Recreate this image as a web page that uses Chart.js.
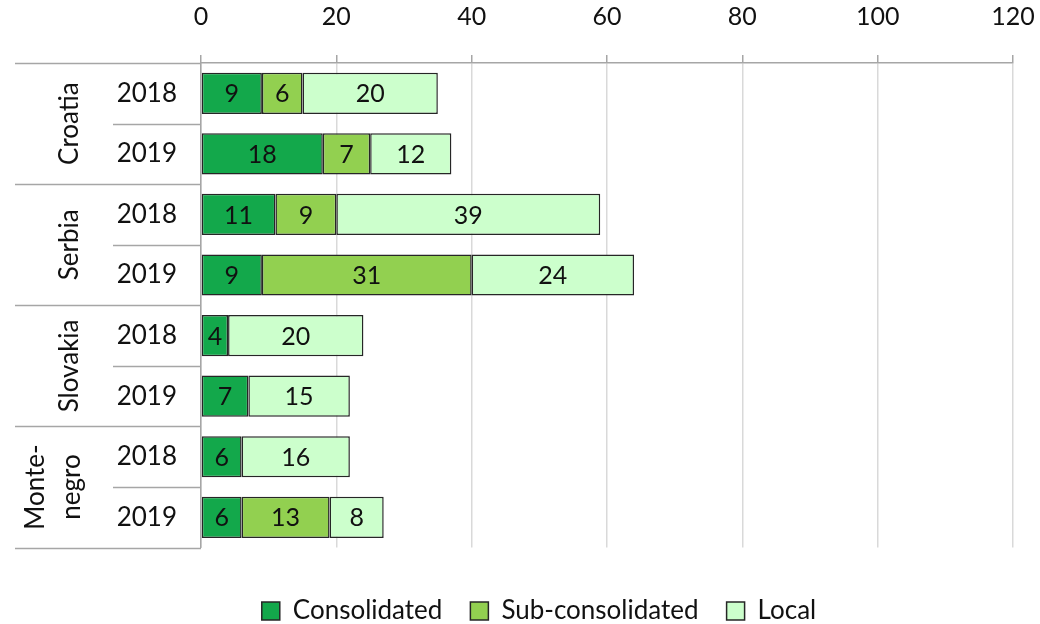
<!DOCTYPE html>
<html>
<head>
<meta charset="utf-8">
<script src="https://cdn.jsdelivr.net/npm/chart.js@4.4.1/dist/chart.umd.min.js"></script>
<style>
  body { margin: 0; background: #fff; }
  #wrap { width: 1040px; height: 624px; position: relative; }
</style>
</head>
<body>
<div id="wrap"><canvas id="chart"></canvas></div>
<script>
// Daten
const countries = [['Croatia'], ['Serbia'], ['Slovakia'], ['Monte-', 'negro']];
const years = ['2018', '2019', '2018', '2019', '2018', '2019', '2018', '2019'];
const consolidated = [9, 18, 11, 9, 4, 7, 6, 6];
const subConsolidated = [6, 7, 9, 31, 0, 0, 0, 13];
const local = [20, 12, 39, 24, 20, 15, 16, 8];
const xTicks = [0, 20, 40, 60, 80, 100, 120];

const FONT = 'Lato, "Open Sans", sans-serif';
const GRAY = '#a6a6a6';
const TEXT = '#111';

// Tal i søjlerne
const valueLabels = {
    id: 'valueLabels',
    afterDatasetsDraw(chart) {
        const ctx = chart.ctx;
        ctx.save();
        ctx.font = '25px ' + FONT;
        ctx.fillStyle = TEXT;
        ctx.textAlign = 'center';
        ctx.textBaseline = 'middle';
        chart.data.datasets.forEach((ds, i) => {
            chart.getDatasetMeta(i).data.forEach((bar, j) => {
                const v = ds.data[j];
                if (!v) return;
                const cx = (bar.x + bar.base) / 2;
                ctx.fillText(String(v), cx, bar.y + 1);
            });
        });
        ctx.restore();
    }
};

// Lande + skillelinjer til venstre
const groupLabels = {
    id: 'groupLabels',
    afterDraw(chart) {
        const ctx = chart.ctx;
        const area = chart.chartArea;
        const n = years.length;
        const h = (area.bottom - area.top) / n;
        ctx.save();
        ctx.strokeStyle = GRAY;
        ctx.lineWidth = 1.5;
        for (let k = 0; k <= n; k++) {
            const y = Math.round(area.top + k * h) + 0.5;
            const x0 = k % 2 === 0 ? 15 : 113;
            ctx.beginPath();
            ctx.moveTo(x0, y);
            ctx.lineTo(area.left, y);
            ctx.stroke();
        }
        ctx.font = '26px ' + FONT;
        ctx.fillStyle = TEXT;
        ctx.textAlign = 'center';
        ctx.textBaseline = 'middle';
        countries.forEach((lines, g) => {
            const cy = area.top + (g * 2 + 1) * h;
            // einzeilig bei x=70, zweizeilig 36 / 72
            const xs = lines.length === 1 ? [70] : [36, 72];
            lines.forEach((txt, li) => {
                ctx.save();
                ctx.translate(xs[li], cy);
                ctx.rotate(-Math.PI / 2);
                ctx.fillText(txt, 0, 0);
                ctx.restore();
            });
        });
        ctx.restore();
    }
};

const ctx = document.getElementById('chart').getContext('2d');

new Chart(ctx, {
    type: 'bar',
    data: {
        labels: years,
        datasets: [
            { label: 'Consolidated', data: consolidated, backgroundColor: '#13a84b' },
            { label: 'Sub-consolidated', data: subConsolidated, backgroundColor: '#92d050' },
            { label: 'Local', data: local, backgroundColor: '#ccffcc' }
        ].map(d => Object.assign(d, {
            borderColor: '#262626',
            borderWidth: 1.5,
            borderSkipped: false,
            categoryPercentage: 1,
            barPercentage: 0.68
        }))
    },
    options: {
        indexAxis: 'y',
        responsive: true,
        maintainAspectRatio: false,
        animation: false,
        layout: { padding: { left: 38, right: 0, top: 0, bottom: -10 } },
        plugins: {
            legend: {
                position: 'bottom',
                title: {
                    display: true,
                    text: ' ',
                    font: { size: 2 },
                    padding: { top: 0, bottom: 20 }
                },
                labels: {
                    font: { size: 26, family: FONT },
                    color: TEXT,
                    boxWidth: 18,
                    boxHeight: 18,
                    padding: 28,
                    generateLabels(chart) {
                        return chart.data.datasets.map((d, i) => ({
                            text: d.label,
                            fillStyle: d.backgroundColor,
                            strokeStyle: '#262626',
                            fontColor: TEXT,
                            lineWidth: 1.5,
                            datasetIndex: i
                        }));
                    }
                }
            },
            tooltip: { enabled: false }
        },
        scales: {
            x: {
                position: 'top',
                stacked: true,
                min: 0,
                max: 120,
                afterBuildTicks(axis) {
                    axis.ticks = xTicks.map(v => ({ value: v }));
                },
                afterFit(axis) {
                    axis.height = 63;
                    axis.paddingRight = 27;
                },
                ticks: {
                    font: { size: 25, family: FONT },
                    color: TEXT,
                    padding: 23
                },
                grid: {
                    color: '#d9d9d9',
                    lineWidth: 1.5,
                    tickColor: GRAY,
                    tickLength: 8
                },
                border: { color: GRAY, width: 1.5 }
            },
            y: {
                stacked: true,
                afterFit(axis) { axis.width = 163; },
                ticks: {
                    font: { size: 26, family: FONT },
                    color: TEXT,
                    padding: 24
                },
                grid: { display: false, drawTicks: false },
                border: { color: GRAY, width: 1.5 }
            }
        }
    },
    plugins: [valueLabels, groupLabels]
});
</script>
</body>
</html>
